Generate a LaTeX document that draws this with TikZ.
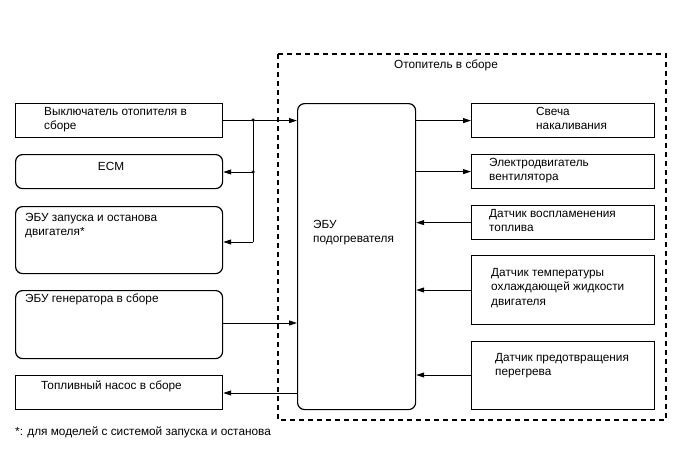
\documentclass[tikz,border=0pt]{standalone}
\usepackage{fontspec}
\setmainfont{Liberation Sans}
\usetikzlibrary{arrows.meta,positioning}

\tikzset{
  blk/.style={draw, line width=1.2pt, inner sep=0pt, anchor=north west},
  rblk/.style={blk, rounded corners=7pt},
  lft/.style={blk, minimum width=207pt},
  rgt/.style={blk, minimum width=183pt},
  txt/.style={anchor=north west, inner sep=0pt, align=left, font=\fontsize{11.8}{14.5}\selectfont},
  sig/.style={-{Triangle[length=8pt,width=5pt]}, line width=0.9pt},
  jdot/.style={circle, fill, inner sep=0pt, minimum size=3.5pt}
}

\begin{document}
\begin{tikzpicture}[x=1pt, y=-1pt]
 \useasboundingbox[fill=white] (0,0) rectangle (688,463);

 %%%%%%%%%% Bloc Отопитель в сборе %%%%%%%%%%
 \draw [line width=1.2pt, dash pattern=on 5pt off 4pt] (278,54) rectangle (666,420);
 \node [txt] (titre) at (394,60) {Отопитель в сборе};

 \node [rblk, minimum width=118pt, minimum height=306pt] (ecu) at (297,103) {};
 \node [txt] (ecu-t) at (313,220) {ЭБУ\\подогревателя};

 %%%%%%%%%% Blocs gauche %%%%%%%%%%
 \node [lft, minimum height=34pt] (vykl) at (15,103) {};
 \node [txt] (vykl-t) at (44,107) {Выключатель отопителя в\\сборе};

 \node [lft, rounded corners=7pt, minimum height=34pt] (ecm) at (15,154) {};
 \node [txt, anchor=north] (ecm-t) at (111,162) {ECM};

 \node [lft, rounded corners=7pt, minimum height=67pt] (start) at (15,206) {};
 \node [txt] (start-t) at (25,213) {ЭБУ запуска и останова\\двигателя*};

 \node [lft, rounded corners=7pt, minimum height=68pt] (gen) at (15,290) {};
 \node [txt] (gen-t) at (25,294) {ЭБУ генератора в сборе};

 \node [lft, minimum height=34pt] (pump) at (15,375) {};
 \node [txt] (pump-t) at (41,381) {Топливный насос в сборе};

 %%%%%%%%%% Blocs droite %%%%%%%%%%
 \node [rgt, minimum height=34pt] (glow) at (471,103) {};
 \node [txt] (glow-t) at (536,107) {Свеча\\накаливания};

 \node [rgt, minimum height=34pt] (fan) at (471,154) {};
 \node [txt] (fan-t) at (489,158) {Электродвигатель\\вентилятора};

 \node [rgt, minimum height=34pt] (flame) at (471,205) {};
 \node [txt] (flame-t) at (489,209) {Датчик воспламенения\\топлива};

 \node [rgt, minimum height=69pt] (temp) at (471,255) {};
 \node [txt] (temp-t) at (491,268) {Датчик температуры\\охлаждающей жидкости\\двигателя};

 \node [rgt, minimum height=68pt] (ovh) at (471,341) {};
 \node [txt] (ovh-t) at (495,353) {Датчик предотвращения\\перегрева};

 %%%%%%%%%% Liaisons %%%%%%%%%%
 \coordinate (j1) at (253,120);
 \coordinate (j2) at (253,172);
 \coordinate (j3) at (253,242);

 \draw [sig] (vykl.east) -- (ecu.west |- vykl.east);
 \draw [line width=0.9pt] (j1) -- (j3);
 \draw [sig] (j2) -- (ecm.east |- j2);
 \draw [sig] (j3) -- (start.east |- j3);
 \node [jdot] (d1) at (j1) {};
 \node [jdot] (d2) at (j2) {};

 \draw [sig] (gen.east |- 0,323) -- (ecu.west |- 0,323);
 \draw [sig] (ecu.west |- 0,393) -- (pump.east |- 0,393);

 \draw [sig] (ecu.east |- glow.west) -- (glow.west);
 \draw [sig] (ecu.east |- fan.west) -- (fan.west);
 \draw [sig] (flame.west) -- (ecu.east |- flame.west);
 \draw [sig] (temp.west |- 0,290) -- (ecu.east |- 0,290);
 \draw [sig] (ovh.west |- 0,375) -- (ecu.east |- 0,375);

 % Note
 \node [txt] (note) at (15,427) {*: для моделей с системой запуска и останова};

\end{tikzpicture}
\end{document}
